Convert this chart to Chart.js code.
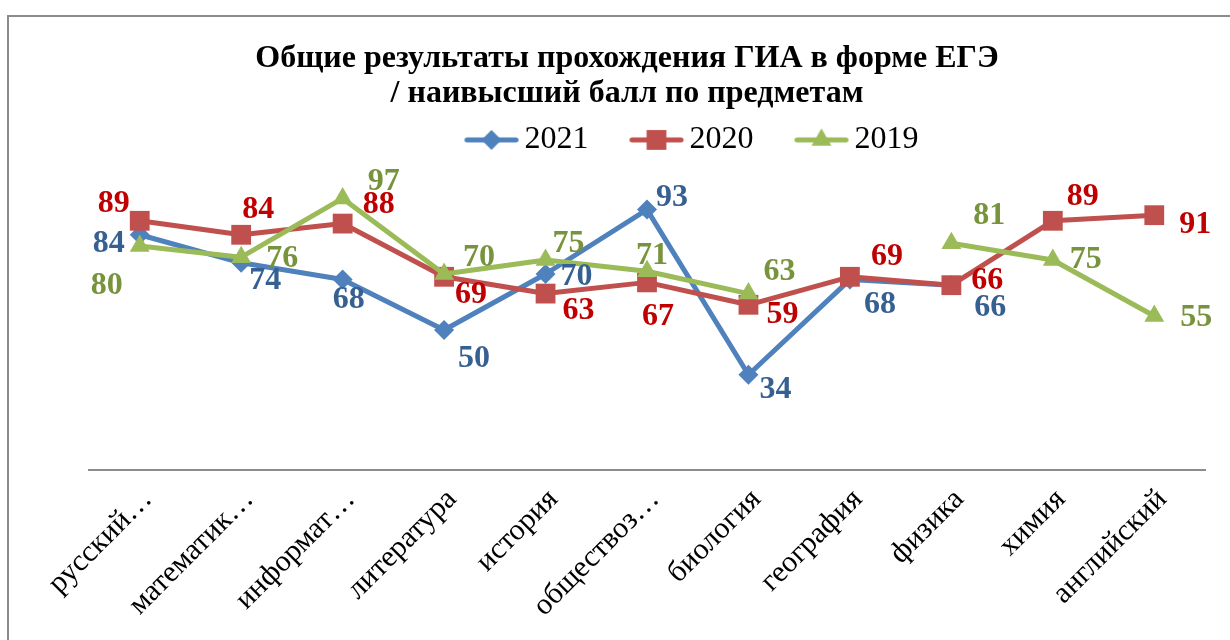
<!DOCTYPE html>
<html><head><meta charset="utf-8">
<script src="https://cdn.jsdelivr.net/npm/chart.js@4.4.1/dist/chart.umd.min.js"></script>
<style>
html,body{margin:0;padding:0;background:#fff;}
#wrap{position:relative;width:1230px;height:640px;overflow:hidden;background:#fff;}
#frame{position:absolute;left:7px;top:15px;width:1300px;height:700px;border-left:2px solid #8c8c8c;border-top:2px solid #8c8c8c;}
canvas{position:absolute;left:0;top:0;}
</style></head><body>
<div id="wrap"><div id="frame"></div><canvas id="c" width="1230" height="640"></canvas></div>
<script>
// ---- data ----
const categories = ['русский\u2026','математик\u2026','информат\u2026','литература','история','обществоз\u2026','биология','география','физика','химия','английский'];
const seriesNames = ['2021','2020','2019'];
const values2021 = [84, 74, 68, 50, 70, 93, 34, 68, 66, null, null];
const values2020 = [89, 84, 88, 69, 63, 67, 59, 69, 66, 89, 91];
const values2019 = [80, 76, 97, 70, 75, 71, 63, null, 81, 75, 55];
const titleLines = ['Общие результаты прохождения ГИА в форме ЕГЭ', '/ наивысший балл по предметам'];

// ---- styles ----
const lineColors = ['#4F81BD', '#C0504D', '#9BBB59'];
const labelColors = ['#376092', '#C00000', '#77933C'];
const markerStyles = ['rectRot', 'rect', 'triangle'];
const markerRadii = [10, 14, 11.5];
// label offsets from the point (px)
const labelOffsets = [
  [[-31,9],[24,18],[6,20],[30,29],[31,3],[25,-12],[27,15],[30,25],[39,23],null,null],
  [[-26,-17],[17,-25],[36,-19],[27,18],[33,17],[11,34],[34,10],[37,-20],[36,-4],[30,-24],[41,10]],
  [[-33,40],[41,2],[41,-17],[35,-16],[23,-16],[5,-15],[31,-22],null,[38,-27],[33,0],[42,2]]
];
const FONT = 'Liberation Serif';

function makeIcon(i){
  const c = document.createElement('canvas');
  c.width = 88; c.height = 26;
  const g = c.getContext('2d');
  g.strokeStyle = lineColors[i]; g.fillStyle = lineColors[i];
  g.lineWidth = 5; g.lineCap = 'round';
  g.beginPath(); g.moveTo(34.5, 13); g.lineTo(83.5, 13); g.stroke();
  const x = 59, y = 13, r = markerRadii[i];
  g.beginPath();
  if (markerStyles[i] === 'rectRot') {
    g.moveTo(x - r, y); g.lineTo(x, y - r); g.lineTo(x + r, y); g.lineTo(x, y + r);
  } else if (markerStyles[i] === 'rect') {
    const s = r * Math.SQRT1_2; g.rect(x - s, y - s, 2 * s, 2 * s);
  } else {
    g.moveTo(x, y - r); g.lineTo(x + 0.866 * r, y + 0.5 * r); g.lineTo(x - 0.866 * r, y + 0.5 * r);
  }
  g.closePath(); g.fill();
  return c;
}
const legendIcons = [0,1,2].map(makeIcon);
const blank = document.createElement('canvas'); blank.width = 1; blank.height = 1;

const valueLabels = {
  id: 'valueLabels',
  afterDatasetsDraw(chart){
    const ctx = chart.ctx;
    ctx.save();
    ctx.font = 'bold 32px "' + FONT + '"';
    ctx.textAlign = 'center'; ctx.textBaseline = 'middle';
    chart.data.datasets.forEach((ds, i) => {
      const meta = chart.getDatasetMeta(i);
      meta.data.forEach((pt, j) => {
        const v = ds.data[j];
        if (v == null) return;
        const off = labelOffsets[i][j] || [0, -20];
        ctx.fillStyle = labelColors[i];
        ctx.fillText(String(v), pt.x + off[0], pt.y + off[1]);
      });
    });
    ctx.restore();
  }
};

const seriesValues = [values2021, values2020, values2019];
const datasets = seriesValues.map((vals, i) => ({
  label: seriesNames[i],
  data: vals,
  borderColor: lineColors[i],
  backgroundColor: lineColors[i],
  pointBackgroundColor: lineColors[i],
  pointBorderColor: lineColors[i],
  pointBorderWidth: 0,
  pointStyle: markerStyles[i],
  pointRadius: markerRadii[i],
  borderWidth: 5,
  borderJoinStyle: 'round',
  borderCapStyle: 'round',
  tension: 0,
  spanGaps: false,
  clip: false,
  order: 3 - i
}));

new Chart(document.getElementById('c'), {
  type: 'line',
  data: { labels: categories, datasets },
  options: {
    responsive: false,
    animation: false,
    devicePixelRatio: 1,
    layout: { padding: { left: 49, right: 25, top: 0, bottom: 0 } },
    plugins: {
      title: {
        display: true, text: titleLines, color: '#000',
        font: { family: FONT, size: 32, weight: 'bold', lineHeight: 1.1 },
        padding: { top: 41, bottom: 7.5 }
      },
      legend: {
        display: true, position: 'top', align: 'center',
        onClick: () => {},
        labels: {
          usePointStyle: true, pointStyleWidth: 64, padding: 5,
          color: '#000', font: { family: FONT, size: 32 },
          generateLabels: (chart) => {
            const items = [{ text: '     ', pointStyle: blank, fillStyle: 'rgba(0,0,0,0)', strokeStyle: 'rgba(0,0,0,0)', lineWidth: 0, hidden: false, datasetIndex: -1 }];
            chart.data.datasets.forEach((ds, i) => items.push({
              text: ds.label + '  ', pointStyle: legendIcons[i], fillStyle: ds.borderColor,
              strokeStyle: ds.borderColor, lineWidth: 0, hidden: false, datasetIndex: i
            }));
            return items;
          }
        }
      },
      tooltip: { enabled: false }
    },
    scales: {
      x: {
        offset: true,
        grid: { display: false, drawTicks: false },
        border: { display: true, color: '#8c8c8c', width: 2 },
        ticks: { autoSkip: false, maxRotation: 45, minRotation: 45, color: '#000', font: { family: FONT, size: 30 }, padding: 12, labelOffset: 8 },
        afterFit: (a) => { a.height = 170; }
      },
      y: {
        min: 0, max: 108.6, display: true,
        grid: { display: false, drawTicks: false },
        border: { display: false },
        ticks: { display: false },
        afterFit: (a) => { a.width = 40; }
      }
    }
  },
  plugins: [valueLabels]
});
</script>
</body></html>
